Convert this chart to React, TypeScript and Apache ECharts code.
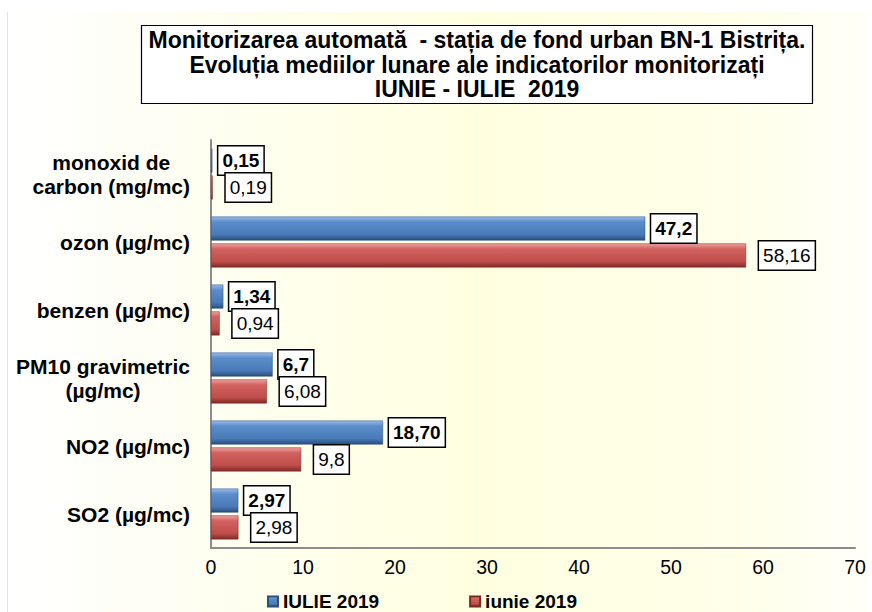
import React, { useEffect, useRef } from "react";
import * as echarts from "echarts";

const categories = [
  "SO2 (µg/mc)",
  "NO2 (µg/mc)",
  "PM10 gravimetric\n(µg/mc)",
  "benzen (µg/mc)",
  "ozon (µg/mc)",
  "monoxid de\ncarbon (mg/mc)",
];
const iulieValues = [2.97, 18.7, 6.7, 1.34, 47.2, 0.15];
const iulieLabels = ["2,97", "18,70", "6,7", "1,34", "47,2", "0,15"];
const iunieValues = [2.98, 9.8, 6.08, 0.94, 58.16, 0.19];
const iunieLabels = ["2,98", "9,8", "6,08", "0,94", "58,16", "0,19"];
const xTicks = { min: 0, max: 70, interval: 10 };
const titleText =
  "Monitorizarea automată  - stația de fond urban BN-1 Bistrița.\nEvoluția mediilor lunare ale indicatorilor monitorizați\nIUNIE - IULIE  2019";
const legendNames = ["IULIE 2019", "iunie 2019"];

const FONT = "'Liberation Sans', Arial, sans-serif";

const blueGrad = new echarts.graphic.LinearGradient(0, 0, 0, 1, [
  { offset: 0, color: "#9bbce8" },
  { offset: 0.22, color: "#5b8dcb" },
  { offset: 0.75, color: "#4a7bb8" },
  { offset: 1, color: "#284e7e" },
]);
const redGrad = new echarts.graphic.LinearGradient(0, 0, 0, 1, [
  { offset: 0, color: "#f0a3a1" },
  { offset: 0.22, color: "#d2625f" },
  { offset: 0.75, color: "#bf4e4b" },
  { offset: 1, color: "#822826" },
]);

const labelBox = {
  show: true,
  position: "right" as const,
  backgroundColor: "#ffffff",
  borderColor: "#000000",
  borderWidth: 1.5,
  padding: [5, 4, 4, 4],
  fontSize: 19,
  color: "#000000",
  fontFamily: FONT,
};

export default function App() {
  const ref = useRef<HTMLDivElement>(null);
  useEffect(() => {
    document.body.style.margin = "0";
    if (!ref.current) return;
    const chart = echarts.init(ref.current, undefined, { renderer: "svg" });
    chart.setOption({
      animation: false,
      textStyle: { fontFamily: FONT },
      graphic: [
        {
          type: "rect",
          z: -10,
          shape: { x: 7, y: 12, width: 860, height: 600 },
          style: {
            fill: new echarts.graphic.LinearGradient(0, 0, 1, 0, [
              { offset: 0, color: "#ffffff" },
              { offset: 0.25, color: "#fefef0" },
              { offset: 0.55, color: "#ffffe0" },
              { offset: 0.85, color: "#ffffea" },
              { offset: 1, color: "#fffff8" },
            ]),
          },
        },
        {
          type: "line",
          z: -9,
          shape: { x1: 7.5, y1: 12, x2: 7.5, y2: 612 },
          style: { stroke: "#e4e4e4", lineWidth: 1 },
        },
      ],
      title: {
        text: titleText,
        left: 470,
        top: 25,
        textAlign: "center",
        padding: [3, 7, 2, 7],
        backgroundColor: "#ffffff",
        borderColor: "#000000",
        borderWidth: 1.2,
        textStyle: {
          fontFamily: FONT,
          fontSize: 23,
          fontWeight: "bold",
          lineHeight: 24.5,
          color: "#000000",
        },
      },
      legend: {
        data: legendNames,
        left: 262,
        top: 587,
        icon: "rect",
        itemWidth: 10,
        itemHeight: 10,
        itemGap: 90,
        textStyle: {
          fontFamily: FONT,
          fontSize: 19,
          fontWeight: "bold",
          color: "#000000",
        },
      },
      grid: { left: 211, right: 17, top: 140, bottom: 64, containLabel: false },
      xAxis: {
        type: "value",
        min: xTicks.min,
        max: xTicks.max,
        interval: xTicks.interval,
        axisLine: { show: true, lineStyle: { color: "#8c8c8c", width: 2 } },
        axisTick: { show: false },
        splitLine: { show: false },
        axisLabel: { fontSize: 19.5, color: "#000000", margin: 9, fontFamily: FONT },
      },
      yAxis: {
        type: "category",
        data: categories,
        axisLine: { show: true, lineStyle: { color: "#8c8c8c", width: 2 } },
        axisTick: { show: false },
        axisLabel: {
          margin: 21,
          color: "#000000",
          fontSize: 21,
          fontWeight: "bold",
          fontFamily: FONT,
          lineHeight: 24,
          formatter: (v: string) =>
            v
              .split("\n")
              .map((l) => "{c|" + l + "}")
              .join("\n"),
          rich: {
            c: {
              align: "center",
              fontSize: 21,
              fontWeight: "bold",
              fontFamily: FONT,
              color: "#000000",
              lineHeight: 24,
            },
          },
        },
      },
      series: [
        {
          name: "IULIE 2019",
          type: "bar",
          data: iulieValues,
          barWidth: 24,
          barGap: "12%",
          barCategoryGap: "25%",
          itemStyle: { color: blueGrad, borderColor: "#2a4f7d", borderWidth: 0.5 },
          label: {
            ...labelBox,
            distance: 6,
            fontWeight: "bold",
            formatter: (p: any) => iulieLabels[p.dataIndex],
          },
        },
        {
          name: "iunie 2019",
          type: "bar",
          data: iunieValues,
          barWidth: 24,
          barGap: "12%",
          barCategoryGap: "25%",
          itemStyle: { color: redGrad, borderColor: "#7a2725", borderWidth: 0.5 },
          label: {
            ...labelBox,
            distance: 13,
            fontWeight: "normal",
            formatter: (p: any) => iunieLabels[p.dataIndex],
          },
        },
      ],
    });
    return () => chart.dispose();
  }, []);
  return <div ref={ref} style={{ width: 872, height: 612 }} />;
}
